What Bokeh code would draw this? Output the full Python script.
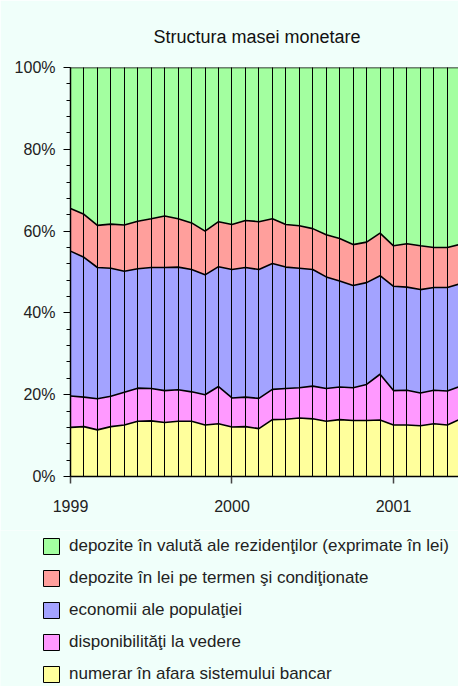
from bokeh.plotting import figure
from bokeh.models import (Range1d, ColumnDataSource, Legend, LegendItem, FixedTicker,
                          SingleIntervalTicker, PrintfTickFormatter, Grid)
from bokeh.embed import file_html
from bokeh.resources import INLINE
import numpy as np

# Monthly shares of money supply (%), Jan 1999 .. Jun 2001
numerar = [12.0, 12.2, 11.4, 12.2, 12.6, 13.5, 13.6, 13.2, 13.5, 13.5, 12.6, 12.9,
           12.1, 12.2, 11.7, 13.9, 14.0, 14.3, 14.1, 13.5, 13.9, 13.7, 13.7, 13.8,
           12.6, 12.6, 12.4, 12.9, 12.6, 14.1]
disponibilitati = [7.7, 7.2, 7.6, 7.4, 8.0, 8.1, 7.9, 7.8, 7.7, 7.2, 7.4, 9.1,
                   7.1, 7.2, 7.4, 7.4, 7.5, 7.4, 8.0, 8.0, 8.0, 8.0, 8.8, 11.2,
                   8.4, 8.5, 8.0, 8.2, 8.3, 8.0]
economii = [35.4, 34.2, 32.1, 31.3, 29.6, 29.2, 29.6, 30.1, 30.0, 29.9, 29.3, 29.3,
            31.4, 31.7, 31.5, 30.8, 29.7, 29.2, 28.5, 27.3, 25.9, 25.0, 24.9, 24.1,
            25.5, 25.2, 25.3, 25.1, 25.3, 25.1]
depozite_lei = [10.4, 10.5, 10.3, 10.8, 11.3, 11.6, 11.9, 12.6, 11.8, 11.4, 10.7, 11.0,
                11.0, 11.5, 11.7, 10.9, 10.4, 10.4, 10.0, 10.3, 10.4, 10.0, 9.9, 10.4,
                9.9, 10.6, 10.7, 9.8, 9.8, 9.6]
depozite_valuta = [34.5, 35.9, 38.6, 38.3, 38.5, 37.6, 37.0, 36.3, 37.0, 38.0, 40.0, 37.7,
                   38.4, 37.4, 37.7, 37.0, 38.4, 38.7, 39.4, 40.9, 41.8, 43.3, 42.7, 40.5,
                   43.6, 43.1, 43.6, 44.0, 44.0, 43.2]

year_ticks = [0, 12, 24]
year_labels = ["1999", "2000", "2001"]

series = ["numerar", "disponibilitati", "economii", "depozite_lei", "depozite_valuta"]
labels = ["numerar în afara sistemului bancar",
          "disponibilităţi la vedere",
          "economii ale populaţiei",
          "depozite în lei pe termen şi condiţionate",
          "depozite în valută ale rezidenţilor (exprimate în lei)"]
colors = ["#FFFF9C", "#FF99FF", "#A3A3FF", "#FF9F9C", "#A3FFA0"]

x = np.arange(len(numerar))
source = ColumnDataSource(dict(x=x, numerar=numerar, disponibilitati=disponibilitati,
                               economii=economii, depozite_lei=depozite_lei,
                               depozite_valuta=depozite_valuta))

BG = "#F0FFFA"
FONT = "Liberation Sans"

p = figure(width=458, height=530, x_range=Range1d(0, 28.83), y_range=Range1d(0, 100),
           output_backend="svg", toolbar_location=None,
           min_border_left=70, min_border_right=0, min_border_top=67, min_border_bottom=54,
           background_fill_color=BG, border_fill_color=BG)
p.outline_line_color = None

p.title.text = "Structura masei monetare"
p.title.align = "left"
p.title.offset = 83
p.title.standoff = 42
p.title.text_font = FONT
p.title.text_font_size = "18px"
p.title.text_font_style = "normal"
p.title.text_color = "#111111"

# areas
p.varea_stack(series, x="x", color=colors, source=source)

# vertical month lines (drawn over the areas)
p.xgrid.visible = False
p.ygrid.visible = False
vg = Grid(dimension=0, ticker=FixedTicker(ticks=list(x)), grid_line_color="black",
          grid_line_width=1, level="overlay")
p.add_layout(vg)

# boundary lines
p.vline_stack(series, x="x", color="black", line_width=1.6, source=source)

# axes
yax = p.yaxis[0]
yax.ticker = SingleIntervalTicker(interval=20, num_minor_ticks=5)
yax.formatter = PrintfTickFormatter(format="%d%%")
yax.axis_line_color = "black"
yax.axis_line_width = 1.5
yax.major_tick_line_color = "black"
yax.minor_tick_line_color = "black"
yax.major_tick_out = 7
yax.major_tick_in = 0
yax.minor_tick_out = 4
yax.minor_tick_in = 0
yax.major_label_standoff = 8
yax.major_label_text_font = FONT
yax.major_label_text_font_size = "16px"
yax.major_label_text_color = "#222222"

xax = p.xaxis[0]
xax.ticker = FixedTicker(ticks=year_ticks, minor_ticks=[])
xax.major_label_overrides = {t: l for t, l in zip(year_ticks, year_labels)}
xax.axis_line_color = "black"
xax.axis_line_width = 1.5
xax.major_tick_line_color = "#444444"
xax.major_tick_line_width = 1.5
xax.major_tick_out = 7
xax.major_tick_in = 0
xax.major_label_standoff = 16
xax.major_label_text_font = FONT
xax.major_label_text_font_size = "16px"
xax.major_label_text_color = "#222222"

# legend in a separate strip below the chart (separate root, so frames are not aligned)
lg = figure(width=458, height=156, x_range=Range1d(0, 1), y_range=Range1d(0, 1),
            output_backend="svg", toolbar_location=None,
            x_axis_location=None, y_axis_location=None,
            min_border_left=0, min_border_right=0, min_border_top=0, min_border_bottom=0,
            background_fill_color=BG, border_fill_color=BG)
lg.outline_line_color = None
lg.grid.visible = False

nan = [np.nan]
items = []
for s, lab, c in reversed(list(zip(series, labels, colors))):
    r = lg.quad(left=nan, right=nan, top=nan, bottom=nan, fill_color=c,
                line_color="black", line_width=1)
    items.append(LegendItem(label=lab, renderers=[r]))

legend = Legend(items=items, location=(41, 2), orientation="vertical",
                glyph_width=20, glyph_height=20, label_height=20, spacing=12,
                label_standoff=8, padding=0, margin=0,
                border_line_color=None, background_fill_alpha=0,
                label_text_font=FONT, label_text_font_size="17px",
                label_text_color="#222222")
lg.add_layout(legend, "center")

open("out.html", "w").write(file_html([p, lg], INLINE))
